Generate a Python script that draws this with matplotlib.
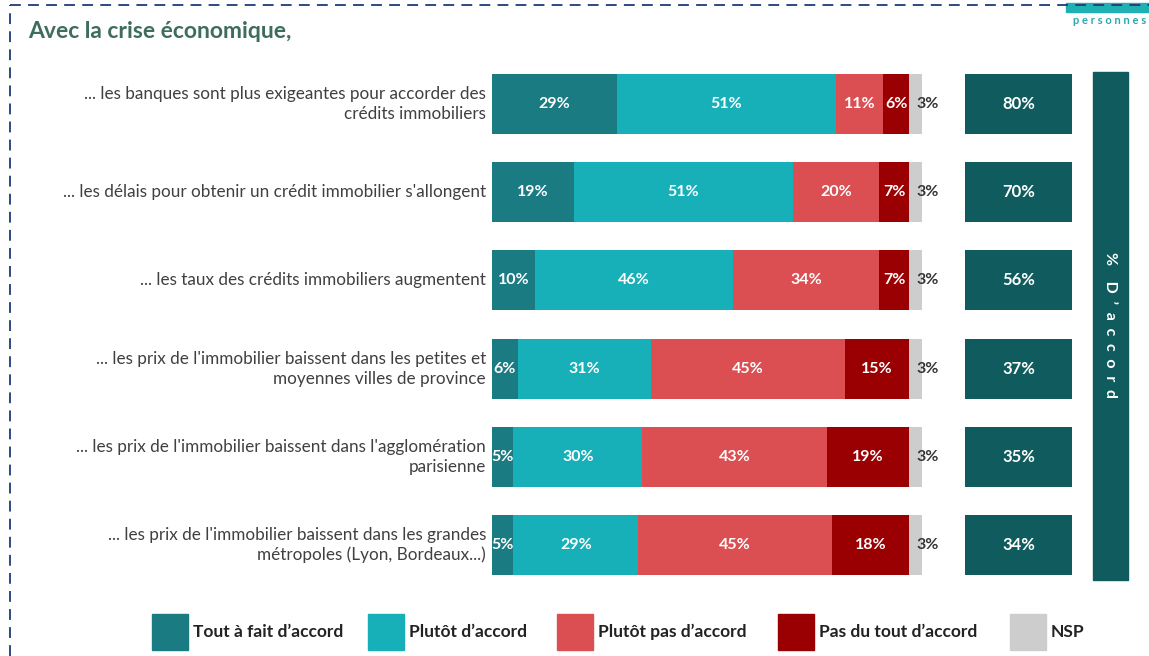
import matplotlib
matplotlib.use("Agg")
import matplotlib.pyplot as plt
from matplotlib.patches import Rectangle
from matplotlib.lines import Line2D

plt.rcParams['font.family'] = ['Lato', 'DejaVu Sans']

categories = [
    "... les banques sont plus exigeantes pour accorder des\ncrédits immobiliers",
    "... les délais pour obtenir un crédit immobilier s'allongent",
    "... les taux des crédits immobiliers augmentent",
    "... les prix de l'immobilier baissent dans les petites et\nmoyennes villes de province",
    "... les prix de l'immobilier baissent dans l'agglomération\nparisienne",
    "... les prix de l'immobilier baissent dans les grandes\nmétropoles (Lyon, Bordeaux...)",
]
tout_fait = [29, 19, 10, 6, 5, 5]
plutot = [51, 51, 46, 31, 30, 29]
plutot_pas = [11, 20, 34, 45, 43, 45]
pas_du_tout = [6, 7, 7, 15, 19, 18]
nsp = [3, 3, 3, 3, 3, 3]
accord = [80, 70, 56, 37, 35, 34]

series = [tout_fait, plutot, plutot_pas, pas_du_tout, nsp]
names = ["Tout à fait d’accord", "Plutôt d’accord", "Plutôt pas d’accord",
         "Pas du tout d’accord", "NSP"]
colors = ["#1a7b82", "#17b0b8", "#db4f52", "#9a0002", "#cdcdcd"]
dark = "#0f5b5d"

W, H = 1149, 656
fig = plt.figure(figsize=(W / 100, H / 100), dpi=100)

# main axes: 0..100 % maps to pixels 492..922
px_per = 4.3
x0 = 492
top_px, bot_px = 60, 600
ax = fig.add_axes([x0 / W, (H - bot_px) / H, (W - x0) / W, (bot_px - top_px) / H])
ax.set_xlim(0, (W - x0) / px_per)
c0, step = 104, 88.2
ax.set_ylim((bot_px - c0) / step, (top_px - c0) / step)
ax.axis("off")

ys = list(range(len(categories)))
left = [0] * len(categories)
for k, (vals, col) in enumerate(zip(series, colors)):
    ax.barh(ys, vals, left=left, height=0.68, color=col)
    for i, v in enumerate(vals):
        if k == 4:
            ax.text(left[i] + v * 0.55, i, f"{v}%", ha="left", va="center",
                    fontsize=11.5, fontweight="bold", color="#333333")
        else:
            ax.text(left[i] + v / 2, i, f"{v}%", ha="center", va="center",
                    fontsize=11.5, fontweight="bold", color="white")
    left = [a + b for a, b in zip(left, vals)]

# summary boxes
box_l = (965 - x0) / px_per
box_w = (1072 - 965) / px_per
ax.barh(ys, [box_w] * len(ys), left=box_l, height=0.68, color=dark)
for i, v in enumerate(accord):
    ax.text(box_l + box_w / 2, i, f"{v}%", ha="center", va="center",
            fontsize=12, fontweight="bold", color="white")

# vertical side band
sb_l = (1093 - x0) / px_per
sb_w = (1128 - 1093) / px_per
sb_t = (72 - c0) / step
sb_b = (580 - c0) / step
ax.add_patch(Rectangle((sb_l, sb_t), sb_w, sb_b - sb_t, color=dark))
ax.text(sb_l + sb_w / 2, (325 - c0) / step, "%    D  ’  a  c  c  o  r  d", rotation=-90,
        ha="center", va="center", fontsize=11.5, fontweight="bold", color="white")

# category labels
for i, c in enumerate(categories):
    ax.text(-1.4, i, c, ha="right", va="center", fontsize=12.3, color="#404040",
            linespacing=1.3)

# title
fig.text(28 / W, 1 - 32 / H, "Avec la crise économique,", ha="left", va="center",
         fontsize=16.5, fontweight="bold", color="#3e6d5c")

# dashed frame
fig.add_artist(Line2D([10 / W, 1], [1 - 5 / H, 1 - 5 / H], color="#1f3a78",
                      lw=1.3, ls=(0, (6, 4))))
fig.add_artist(Line2D([10 / W, 10 / W], [0, 1 - 5 / H], color="#1f3a78",
                      lw=1.3, ls=(0, (6, 4))))

# logo remnant top right
fig.add_artist(Rectangle((1066 / W, 1 - 12 / H), (W - 1066) / W, 9 / H,
                         color="#1fb0b4", transform=fig.transFigure))
fig.text(1146 / W, 1 - 21 / H, "p e r s o n n e s", ha="right", va="center",
         fontsize=8, fontweight="bold", color="#2aa6ad")

# legend
leg_x = [152, 368, 557, 778, 1010]
for x, n, col in zip(leg_x, names, colors):
    fig.add_artist(Rectangle((x / W, 1 - 650 / H), 36 / W, 36 / H, color=col,
                             transform=fig.transFigure))
    fig.text((x + 41) / W, 1 - 632 / H, n, ha="left", va="center", fontsize=12.5,
             fontweight="bold", color="#222222")

fig.savefig("out.png", dpi=100)
